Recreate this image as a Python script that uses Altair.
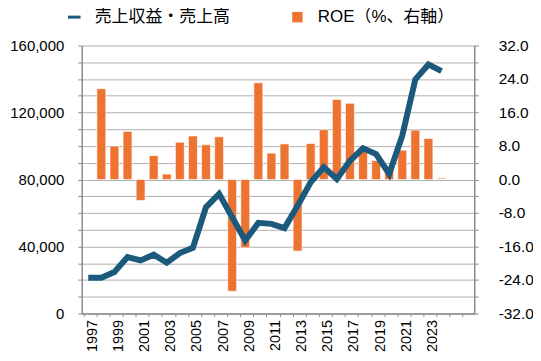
import altair as alt
import pandas as pd
import numpy as np

years = list(range(1997, 2027))
sales = [21400, 21400, 24800, 33700, 31700, 35100, 30300, 36100, 39300, 63500,
         71400, 57500, 43600, 54100, 53500, 51000, 64400, 78300, 87300, 80300,
         91200, 98600, 95200, 83300, 106100, 139800, 148700, 144700]
roe = [21.7, 8.0, 11.5, -5.0, 5.7, 1.3, 8.9, 10.4, 8.3, 10.2,
       -26.7, -16.3, 23.1, 6.3, 8.5, -17.1, 8.6, 11.9, 19.1, 18.2,
       7.3, 4.5, 3.0, 7.0, 11.8, 9.8, 0.5]
sales_start = 1997
roe_start = 1998
line_name = "売上収益・売上高"
bar_name = "ROE（%、右軸）"

sales_map = {sales_start + i: v for i, v in enumerate(sales)}
roe_map = {roe_start + i: v for i, v in enumerate(roe)}
df = pd.DataFrame({
    "year": years,
    "sales": [sales_map.get(y, np.nan) for y in years],
    "roe": [roe_map.get(y, np.nan) for y in years],
})

FONT = "Liberation Sans, Noto Sans CJK JP"
ORANGE = "#ED7331"
BLUE = "#1B5A7C"

x = alt.X("year:O", title=None,
          scale=alt.Scale(domain=years, paddingInner=0.32, paddingOuter=0.16),
          axis=alt.Axis(labelAngle=270, labelAlign="right", labelBaseline="middle",
                        labelExpr="(datum.value % 2 == 1 && datum.value <= 2023) ? datum.value : ''",
                        labelFontSize=14.5, labelPadding=3, tickSize=3, grid=False,
                        bandPosition=0, labelOffset=4.5,
                        labelOverlap=False))

base = alt.Chart(df)

bars = base.transform_filter("isValid(datum.roe)").transform_calculate(
    s2=f"'{bar_name}'"
).mark_bar(stroke="#ffffff", strokeWidth=1, strokeOpacity=0.6).encode(
    x=x,
    y=alt.Y("roe:Q", title=None,
            scale=alt.Scale(domain=[-32, 32], nice=False),
            axis=alt.Axis(orient="right", values=list(range(-32, 33, 4)),
                          labelExpr="datum.value % 8 == 0 ? replace(format(datum.value, '.1f'), '\u2212', '-') : ''",
                          grid=False, labelAlign="left", labelFontSize=15.5,
                          labelPadding=20, tickSize=4)),
    fill=alt.Fill("s2:N", scale=alt.Scale(range=[ORANGE]),
                  legend=alt.Legend(title=None, orient="none", legendX=208, legendY=-37,
                                    symbolType="square", symbolSize=110, labelFontSize=17,
                                    labelOffset=12, symbolStrokeWidth=0, padding=0,
                                    labelFont="Liberation Sans, Noto Sans CJK JP")),
    opacity=alt.condition("datum.year == 2024", alt.value(0.4), alt.value(1)),
)

line = base.transform_filter("isValid(datum.sales)").transform_calculate(
    s1=f"'{line_name}'"
).mark_line(strokeWidth=6, strokeJoin="miter").encode(
    x=x,
    y=alt.Y("sales:Q", title=None,
            scale=alt.Scale(domain=[0, 160000], nice=False),
            axis=alt.Axis(orient="left", values=list(range(0, 160001, 10000)),
                          labelExpr="datum.value % 40000 == 0 ? format(datum.value, ',') : ''",
                          grid=True, labelFontSize=15, labelPadding=14, tickSize=4)),
    stroke=alt.Stroke("s1:N", scale=alt.Scale(range=[BLUE]),
                      legend=alt.Legend(title=None, orient="none", legendX=-16, legendY=-37,
                                        symbolType="stroke", symbolSize=160, symbolStrokeWidth=3,
                                        labelFontSize=17, labelOffset=12, padding=0,
                                        labelFont="Liberation Sans, Noto Sans CJK JP")),
)

chart = alt.layer(bars, line).resolve_scale(
    y="independent", fill="independent", stroke="independent"
).properties(
    width=394, height=269,
    autosize=alt.AutoSizeParams(type="none"),
    padding={"left": 74, "top": 37, "right": 59, "bottom": 39},
).configure_axis(
    domainColor="#8a8a8a", tickColor="#8a8a8a", gridColor="#b0b0b0",
    labelColor="#000000", labelFont=FONT, domainWidth=1.5,
).configure_legend(
    labelColor="#000000",
).configure_view(strokeWidth=0)

chart.save("out.html", embed_options={"renderer": "svg", "actions": False})
